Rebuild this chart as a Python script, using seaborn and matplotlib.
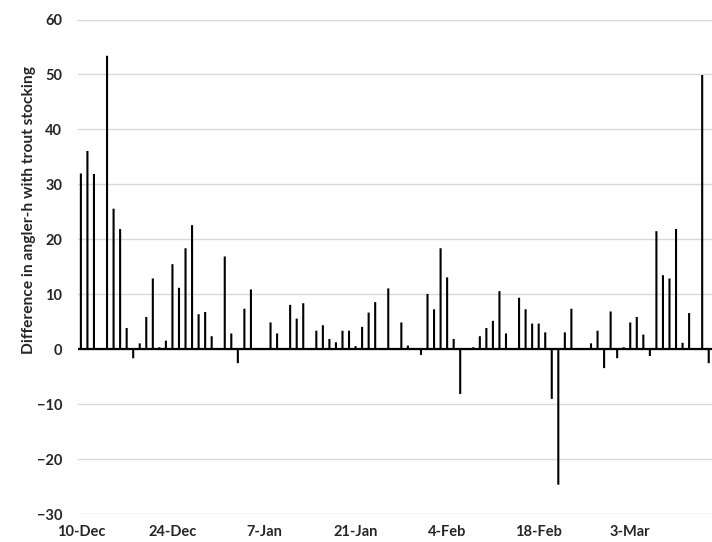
import pandas as pd
import seaborn as sns
import matplotlib.pyplot as plt

# Daily difference in angler-hours with trout stocking (10-Dec to 15-Mar)
dec_values = [32, 36.1, 31.9, 0, 53.4, 25.6, 21.9, 3.9, -1.6, 1.1, 5.9, 12.9, 0.4, 1.6,
              15.5, 11.2, 18.4, 22.6, 6.4, 6.8, 2.4, 0]
jan_values = [16.9, 2.9, -2.5, 7.4, 10.9, 0, 0, 4.9, 2.9, 0, 8.1, 5.6, 8.4, 0, 3.4, 4.4,
              1.9, 1.3, 3.4, 3.4, 0.6, 4.1, 6.7, 8.6, 0, 11.1, 0, 4.9, 0.7, 0, -1.0]
feb_values = [10.1, 7.3, 18.4, 13.1, 1.9, -8.1, 0, 0.4, 2.4, 3.9, 5.2, 10.6, 2.9, 0, 9.4,
              7.3, 4.7, 4.7, 3.1, -9.0, -24.6, 3.1, 7.4, 0, 0, 1.1, 3.4, -3.4, 6.9]
mar_values = [-1.6, 0.4, 4.9, 5.9, 2.7, -1.2, 21.5, 13.5, 12.9, 21.9, 1.2, 6.6, 0, 49.9, -2.5]

tick_labels = ['10-Dec', '24-Dec', '7-Jan', '21-Jan', '4-Feb', '18-Feb', '3-Mar']
y_ticks = [-30, -20, -10, 0, 10, 20, 30, 40, 50, 60]

days = pd.date_range('2011-12-10', '2012-03-15', freq='D')
values = dec_values + jan_values + feb_values + mar_values
df = pd.DataFrame({'day': days.strftime('%d-%b').str.lstrip('0'), 'diff': values})

sns.set_style('white')
plt.rcParams['font.family'] = ['Lato', 'DejaVu Sans']
text_col = '#262626'

fig = plt.figure(figsize=(7.12, 5.42), dpi=100)
ax = fig.add_axes([0.109, 0.051, 0.891, 0.913])

ax.set_yticks(y_ticks)
ax.grid(axis='y', color='#d9d9d9', linewidth=1)
ax.set_axisbelow(True)

sns.barplot(data=df, x='day', y='diff', order=list(df['day']), color='black',
            saturation=1, width=0.32, linewidth=0, ax=ax)
for bar in ax.patches:
    bar.set_snap(False)
ax.axhline(0, color='black', linewidth=1.6, zorder=3)

ax.set_ylim(-30, 60)
ax.set_xlim(-0.5, len(df) - 0.5)
ax.set_xticks(range(0, len(df), 14))
ax.set_xticklabels(tick_labels)
ax.tick_params(axis='both', length=0, labelsize=10.5, labelcolor=text_col)
ax.tick_params(axis='y', pad=11)
ax.tick_params(axis='x', pad=8)
for lab in ax.get_xticklabels() + ax.get_yticklabels():
    lab.set_fontweight('bold')

ax.set_xlabel('')
ax.set_ylabel('Difference in angler-h with trout stocking', fontsize=11.2,
              fontweight='bold', color=text_col)
ax.yaxis.set_label_coords(-0.066, 0.615)

for side in ['top', 'right', 'left', 'bottom']:
    ax.spines[side].set_visible(False)

plt.savefig('out.png', dpi=100)
plt.close()
